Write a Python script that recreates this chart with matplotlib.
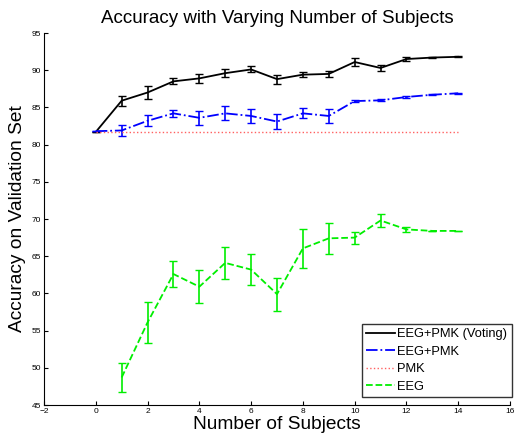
import matplotlib
matplotlib.use("Agg")
import matplotlib.pyplot as plt

plt.rcParams['font.family'] = ['Liberation Sans', 'DejaVu Sans']

subjects = list(range(0, 15))
eeg_subjects = list(range(1, 15))

voting = [81.7, 85.9, 87.0, 88.5, 88.9, 89.6, 90.1, 88.8, 89.4, 89.5, 91.1, 90.3, 91.5, 91.7, 91.8]
voting_err = [0.0, 0.65, 0.9, 0.4, 0.65, 0.55, 0.4, 0.6, 0.38, 0.45, 0.5, 0.4, 0.3, 0.1, 0.05]

combined = [81.8, 81.9, 83.2, 84.2, 83.6, 84.2, 83.85, 83.1, 84.2, 83.85, 85.85, 85.95, 86.4, 86.7, 86.9]
combined_err = [0.0, 0.7, 0.75, 0.45, 0.9, 0.95, 0.9, 1.0, 0.67, 0.9, 0.15, 0.15, 0.1, 0.1, 0.05]

pmk = [81.7] * 15

eeg = [48.7, 56.1, 62.6, 60.9, 64.1, 63.2, 59.9, 66.05, 67.4, 67.5, 69.8, 68.6, 68.4, 68.4]
eeg_err = [1.95, 2.75, 1.8, 2.2, 2.2, 2.1, 2.2, 2.6, 2.1, 0.8, 0.85, 0.35, 0.05, 0.0]

fig = plt.figure(figsize=(5.14, 4.36), dpi=100)
ax = fig.add_axes([44 / 514, 31 / 436, 466 / 514, 372 / 436])

# lines (for legend) and error bars drawn separately
ax.plot(subjects, voting, color="black", linestyle="-", linewidth=1.3,
        label="EEG+PMK (Voting)")
ax.errorbar(subjects, voting, yerr=voting_err, fmt="none", ecolor="black",
            capsize=3, elinewidth=1.2)
ax.plot(subjects, combined, color="blue", linestyle="-.", linewidth=1.3,
        label="EEG+PMK")
ax.errorbar(subjects, combined, yerr=combined_err, fmt="none", ecolor="blue",
            capsize=3, elinewidth=1.2)
ax.plot(subjects, pmk, color="#ff6060", linestyle=":", linewidth=1.0, label="PMK")
ax.plot(eeg_subjects, eeg, color="#00ee00", linestyle="--", linewidth=1.3,
        label="EEG")
ax.errorbar(eeg_subjects, eeg, yerr=eeg_err, fmt="none", ecolor="#00ee00",
            capsize=3, elinewidth=1.2)

ax.set_xlim(-2, 16)
ax.set_ylim(45, 95)
ax.set_xticks(range(-2, 17, 2))
ax.set_yticks(range(45, 96, 5))
ax.tick_params(direction="in", labelsize=6, length=3, pad=2)
ax.spines["top"].set_visible(False)
ax.spines["right"].set_visible(False)

ax.set_title("Accuracy with Varying Number of Subjects", fontsize=13.5, pad=7)
ax.set_xlabel("Number of Subjects", fontsize=13.8, labelpad=1)
ax.set_ylabel("Accuracy on Validation Set", fontsize=13.8, labelpad=4)

leg = ax.legend(loc="lower right", bbox_to_anchor=(1.004, 0.021),
                fontsize=9.3, frameon=True, fancybox=False,
                edgecolor="black", handlelength=2.2, handletextpad=0.2,
                labelspacing=0.42, borderpad=0.35, borderaxespad=0)
leg.get_frame().set_linewidth(1.0)

fig.savefig("out.png", dpi=100)
